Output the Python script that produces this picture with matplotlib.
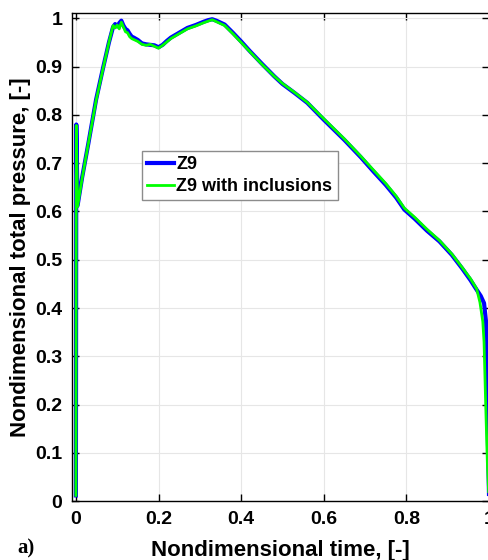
import matplotlib
matplotlib.use("Agg")
import matplotlib.pyplot as plt

# ===================== DATA =====================

time_z9 = [0.000, 0.001, 0.004, 0.015, 0.030, 0.049, 0.066, 0.080, 0.090,
           0.095, 0.100, 0.105, 0.110, 0.115, 0.120, 0.125, 0.130, 0.135,
           0.140, 0.150, 0.160, 0.170, 0.180, 0.190, 0.200, 0.210, 0.220,
           0.230, 0.250, 0.270, 0.290, 0.310, 0.320, 0.330, 0.340, 0.360,
           0.380, 0.400, 0.420, 0.450, 0.480, 0.500, 0.530, 0.560, 0.600,
           0.650, 0.690, 0.720, 0.750, 0.775, 0.795, 0.820, 0.850, 0.880,
           0.910, 0.935, 0.955, 0.970, 0.980, 0.988, 0.993, 0.996, 0.998,
           1.000]
pressure_z9 = [0.012, 0.780, 0.612, 0.670, 0.740, 0.832, 0.898, 0.950, 0.982,
               0.988, 0.983, 0.990, 0.995, 0.985, 0.978, 0.975, 0.968, 0.962,
               0.960, 0.955, 0.948, 0.946, 0.945, 0.944, 0.940, 0.945, 0.953,
               0.960, 0.970, 0.980, 0.986, 0.993, 0.996, 0.998, 0.995, 0.987,
               0.970, 0.952, 0.933, 0.906, 0.880, 0.864, 0.845, 0.825, 0.790,
               0.748, 0.712, 0.683, 0.655, 0.629, 0.604, 0.585, 0.560, 0.538,
               0.510, 0.482, 0.458, 0.438, 0.425, 0.410, 0.370, 0.200, 0.100,
               0.015]

time_incl = [0.000, 0.001, 0.004, 0.015, 0.030, 0.049, 0.066, 0.080, 0.090,
             0.095, 0.100, 0.105, 0.110, 0.115, 0.120, 0.125, 0.130, 0.135,
             0.140, 0.150, 0.160, 0.170, 0.180, 0.190, 0.200, 0.210, 0.220,
             0.230, 0.250, 0.270, 0.290, 0.310, 0.320, 0.330, 0.340, 0.360,
             0.380, 0.400, 0.420, 0.450, 0.480, 0.500, 0.530, 0.560, 0.600,
             0.650, 0.690, 0.720, 0.750, 0.775, 0.795, 0.820, 0.850, 0.880,
             0.910, 0.935, 0.955, 0.970, 0.978, 0.985, 0.988, 0.992, 0.996,
             0.999]
pressure_incl = [0.012, 0.778, 0.610, 0.668, 0.740, 0.830, 0.897, 0.950, 0.985,
                 0.980, 0.986, 0.978, 0.992, 0.982, 0.972, 0.970, 0.962, 0.958,
                 0.956, 0.952, 0.946, 0.944, 0.946, 0.942, 0.938, 0.944, 0.951,
                 0.958, 0.968, 0.978, 0.984, 0.991, 0.994, 0.997, 0.993, 0.985,
                 0.968, 0.950, 0.932, 0.905, 0.880, 0.865, 0.846, 0.826, 0.792,
                 0.750, 0.714, 0.686, 0.658, 0.632, 0.607, 0.588, 0.563, 0.540,
                 0.512, 0.484, 0.461, 0.440, 0.412, 0.372, 0.330, 0.200, 0.080,
                 0.020]

x_ticks = [0, 0.2, 0.4, 0.6, 0.8, 1]
x_tick_labels = ["0", "0.2", "0.4", "0.6", "0.8", "1"]
y_ticks = [0, 0.1, 0.2, 0.3, 0.4, 0.5, 0.6, 0.7, 0.8, 0.9, 1]
y_tick_labels = ["0", "0.1", "0.2", "0.3", "0.4", "0.5", "0.6", "0.7", "0.8", "0.9", "1"]

# ===================== PLOT =====================

plt.rcParams["font.family"] = ["Liberation Sans", "DejaVu Sans"]
plt.rcParams["font.weight"] = "bold"

fig = plt.figure(figsize=(4.89, 5.60), dpi=100)
ax = fig.add_axes([0.147, 0.105, 0.853, 0.871])

ax.plot(time_z9, pressure_z9, color="#0000ff", lw=3.0, label="Z9")
ax.plot(time_incl, pressure_incl, color="#00ff00", lw=2.0, label="Z9 with inclusions")

ax.set_xlim(-0.0097, 1.0)
ax.set_ylim(0, 1.01)
ax.set_xticks(x_ticks)
ax.set_xticklabels(x_tick_labels)
ax.set_yticks(y_ticks)
ax.set_yticklabels(y_tick_labels)

ax.grid(True, color="#e6e6e6", lw=0.8)
ax.set_axisbelow(True)
ax.tick_params(direction="in", top=True, right=True, length=5, width=1,
               labelsize=14, pad=7)
for lbl in ax.get_xticklabels() + ax.get_yticklabels():
    lbl.set_fontweight("bold")
for sp in ax.spines.values():
    sp.set_linewidth(1.0)

ax.set_xlabel("Nondimensional time, [-]", fontsize=16, fontweight="bold", labelpad=9)
ax.set_ylabel("Nondimensional total pressure, [-]", fontsize=16, fontweight="bold", labelpad=3)

leg = ax.legend(loc="upper left", bbox_to_anchor=(0.168, 0.718), borderaxespad=0,
                fancybox=False, edgecolor="#8c8c8c", framealpha=1,
                prop={"weight": "bold", "size": 13},
                handlelength=1.5, handletextpad=0.1, labelspacing=0.25,
                borderpad=0.3)
leg.get_frame().set_linewidth(1.0)

fig.text(0.035, 0.012, "a)", fontsize=15, fontweight="bold",
         family=["Liberation Serif", "DejaVu Serif"])

fig.savefig("out.png", dpi=100)
